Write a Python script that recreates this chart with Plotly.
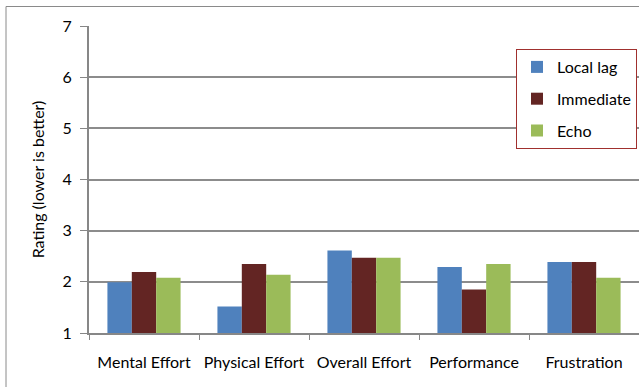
import plotly.graph_objects as go

# Workload ratings per condition
categories = ["Mental Effort", "Physical Effort", "Overall Effort", "Performance", "Frustration"]
local_lag = [1.99, 1.52, 2.61, 2.29, 2.39]
immediate = [2.19, 2.35, 2.47, 1.85, 2.39]
echo = [2.08, 2.14, 2.47, 2.35, 2.08]
y_ticks = [1, 2, 3, 4, 5, 6, 7]

series = [
    ("Local lag", local_lag, "#4f81bd"),
    ("Immediate", immediate, "#632523"),
    ("Echo", echo, "#9bbb59"),
]

W, H = 639, 387
L, R, T, B = 89, 0, 26, 54
FONT = "Lato"
FS = 16

fig = go.Figure()
for i, (name, vals, color) in enumerate(series):
    fig.add_trace(go.Bar(
        name=name, x=categories, y=vals,
        marker=dict(color=color, line=dict(width=0)),
        legendgroup=f"g{i}",
    ))

# outer chart frame (extends past the right and bottom edges)
pw, ph = W - L - R, H - T - B
fig.add_shape(type="rect", xref="paper", yref="paper",
              x0=(6 - L) / pw, x1=(W + 5 - L) / pw,
              y0=-(H + 5 - (H - B)) / ph, y1=((H - B) - 6.5) / ph,
              line=dict(color="#8a8a8a", width=1), fillcolor="rgba(0,0,0,0)",
              layer="below")

fig.update_layout(
    width=W, height=H,
    margin=dict(l=L, r=R, t=T, b=B),
    paper_bgcolor="white", plot_bgcolor="white",
    barmode="group", bargap=0.335, bargroupgap=0,
    font=dict(family=FONT, size=FS, color="#000000"),
    showlegend=True,
    legend=dict(
        x=(516 - L) / pw, y=((H - B) - 49) / ph, xanchor="left", yanchor="top",
        bgcolor="white", bordercolor="#a0302e", borderwidth=1,
        font=dict(family=FONT, size=FS, color="#000000"),
        tracegroupgap=8, traceorder="grouped",
    ),
    xaxis=dict(
        showline=True, linecolor="#878787", linewidth=2,
        ticks="outside", tickson="boundaries", ticklen=5, tickcolor="#878787", tickwidth=1,
        showgrid=False, ticklabelstandoff=14,
        tickfont=dict(family=FONT, size=FS, color="#000000"),
    ),
    yaxis=dict(
        range=[1, 7], tickvals=y_ticks,
        showline=True, linecolor="#878787", linewidth=2,
        ticks="outside", ticklen=7, tickcolor="#878787", tickwidth=1,
        showgrid=True, gridcolor="#8c8c8c", gridwidth=1.5,
        zeroline=False, ticklabelstandoff=5,
        tickfont=dict(family=FONT, size=FS, color="#000000"),
        title=dict(text="Rating (lower is better)", font=dict(family=FONT, size=FS, color="#000000"), standoff=14),
    ),
)

fig.write_html("out.html")
